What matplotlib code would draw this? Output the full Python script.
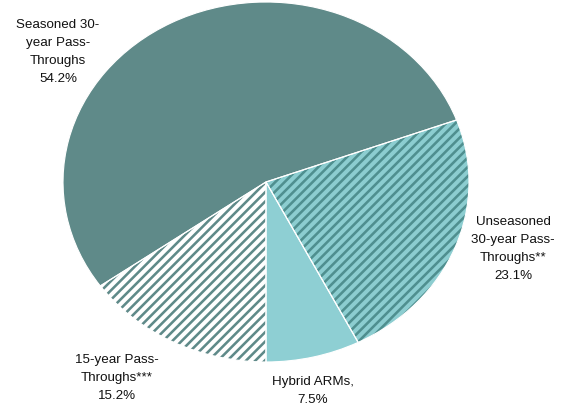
import matplotlib

matplotlib.use("Agg")
import matplotlib.pyplot as plt

# slices in drawing order (counter-clockwise from straight down)
labels = [
    "Hybrid ARMs,\n7.5%",
    "Unseasoned\n30-year Pass-\nThroughs**\n23.1%",
    "Seasoned 30-\nyear Pass-\nThroughs\n54.2%",
    "15-year Pass-\nThroughs***\n15.2%",
]
shares = [7.5, 23.1, 54.2, 15.2]

FACE = ["#8ecfd3", "#8ccdd0", "#5f8a89", "#ffffff"]
HATCH = [None, "///", None, "///"]
STRIPE = ["#8ecfd3", "#4f8f8f", "#5f8a89", "#5f8a89"]
# label centres in pixels (x, y from top)
LABEL_POS = [(313, 391), (513, 249), (58, 52), (117, 378)]

W, H = 569, 406
DPI = 84
CX, CY, RX, RY = 266, 182, 203, 180

plt.rcParams["font.family"] = ["Liberation Sans", "DejaVu Sans"]
plt.rcParams["hatch.linewidth"] = 2.2

fig = plt.figure(figsize=(W / DPI, H / DPI), dpi=DPI)
ax = fig.add_axes([0, 0, 1, 1])
ax.axis("off")

wedges, _ = ax.pie(shares, startangle=-90, counterclock=True, radius=1.0)
for wedge, face, hatch, stripe in zip(wedges, FACE, HATCH, STRIPE):
    wedge.set_facecolor(face)
    wedge.set_edgecolor(stripe)
    wedge.set_linewidth(0)
    if hatch:
        wedge.set_hatch(hatch)

outline, _ = ax.pie(shares, startangle=-90, counterclock=True, radius=1.0,
                    wedgeprops={"facecolor": "none", "edgecolor": "white", "linewidth": 1.0})

ax.set_aspect("auto")
ax.set_xlim(-CX / RX, (W - CX) / RX)
ax.set_ylim(-(H - CY) / RY, CY / RY)

for text, (px, py) in zip(labels, LABEL_POS):
    fig.text(px / W, 1 - py / H, text, ha="center", va="center",
             fontsize=11.5, linespacing=1.65, color="#111111")

fig.savefig("out.png", dpi=DPI)
